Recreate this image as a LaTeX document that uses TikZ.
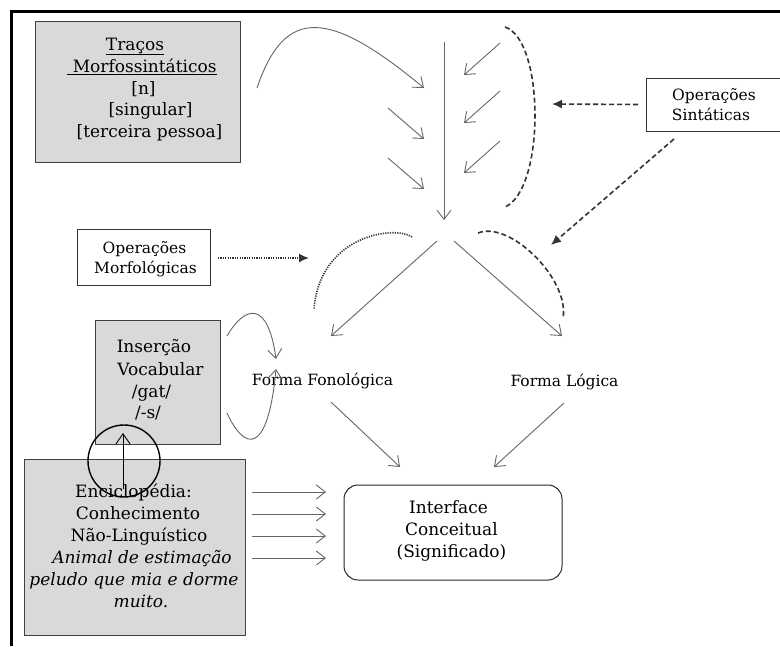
\documentclass[tikz,border=0pt]{standalone}
\usepackage{fontspec}
\setmainfont{DejaVu Serif}
\usetikzlibrary{arrows.meta}
\begin{document}
\begin{tikzpicture}[x=1pt,y=-1pt,
  graybox/.style={draw=black!75, fill=black!15, line width=1pt, inner sep=0pt},
  whitebox/.style={draw=black!80, fill=white, line width=1pt, inner sep=0pt},
  bigtxt/.style={inner sep=0pt, anchor=base, font=\fontsize{17}{20}\selectfont},
  smalltxt/.style={inner sep=0pt, anchor=base, font=\fontsize{15.5}{18}\selectfont},
  ittxt/.style={bigtxt, font=\fontsize{17}{20}\selectfont\itshape},
  garrow/.style={draw=black!60, line width=0.9pt, -{Straight Barb[length=9pt,width=14pt]}},
  dasharrow/.style={draw=black!80, line width=1.6pt, dash pattern=on 5pt off 3pt, -{Latex[length=10pt,width=9pt]}},
  dotarrow/.style={draw=black!80, line width=1.6pt, dash pattern=on 1.2pt off 1.2pt, -{Latex[length=10pt,width=9pt]}},
  dashcurve/.style={draw=black!80, line width=1.6pt, dash pattern=on 5pt off 3pt},
  dotcurve/.style={draw=black!80, line width=1.6pt, dash pattern=on 1.2pt off 1.2pt}
]
\useasboundingbox (0,0) rectangle (780,646);
\fill[white] (0,0) rectangle (780,646);
% frame
\draw[line width=3pt] (11.5,646) -- (11.5,11.5) -- (780,11.5);

% boxes
\node[graybox, minimum width=205, minimum height=141] (tracos) at (137.5,91.5) {};
\node[bigtxt] (tr1) at (135,50) {\underline{Traços}};
\node[bigtxt] (tr2) at (142,72.5) {\underline{\ Morfossintáticos}};
\node[bigtxt] (tr3) at (143.5,94) {[n]};
\node[bigtxt] (tr4) at (150.5,115.5) {[singular]};
\node[bigtxt] (tr5) at (149.5,137) {[terceira pessoa]};

\node[whitebox, minimum width=133, minimum height=56] (opmorf) at (143.5,257) {};
\node[smalltxt] (om1) at (144.5,253) {Operações};
\node[smalltxt] (om2) at (145.5,273.5) {Morfológicas};

\node[whitebox, minimum width=134, minimum height=53, anchor=west] (opsint) at (646,104.5) {};
\node[smalltxt] (os1) at (714,100) {Operações};
\node[smalltxt] (os2) at (711,120.5) {Sintáticas};

\node[graybox, minimum width=125, minimum height=124] (insercao) at (157.5,382) {};
\node[bigtxt] (in1) at (154,352.5) {Inserção};
\node[bigtxt] (in2) at (160.5,375) {Vocabular};
\node[bigtxt] (in3) at (151.5,397) {/gat/};
\node[bigtxt] (in4) at (148,418.5) {/-s/};

\node[graybox, minimum width=221, minimum height=176] (encicl) at (134.5,547) {};
\node[bigtxt] (en1) at (133.5,497) {Enciclopédia:};
\node[bigtxt] (en2) at (138,519) {Conhecimento};
\node[bigtxt] (en3) at (139,541) {Não-Linguístico};
\node[ittxt] (en4) at (142,563) {Animal de estimação};
\node[ittxt] (en5) at (134,585) {peludo que mia e dorme};
\node[ittxt] (en6) at (141,607.5) {muito.};

\node[draw=black!85, line width=1pt, rounded corners=14pt, minimum width=218, minimum height=95,
      inner sep=0pt] (interface) at (453,532.5) {};
\node[bigtxt] (if1t) at (448.5,513) {Interface};
\node[bigtxt] (if2t) at (451.5,535.5) {Conceitual};
\node[bigtxt] (if3t) at (451.5,557) {(Significado)};

\node[smalltxt] (ff) at (322.5,385) {Forma Fonológica};
\node[smalltxt] (fl) at (564.5,386.5) {Forma Lógica};

% circle and arrow in it
\node[circle, draw=black, line width=1.4pt, minimum size=72, inner sep=0pt] (circ) at (124,461) {};
\coordinate (cs) at (123,489);
\coordinate (ce) at (123,433);
\draw[black, line width=0.9pt, -{Straight Barb[length=10pt,width=14pt]}] (cs) -- (ce);

% top area
\coordinate (vtop) at (444,42);
\coordinate (vbot) at (444,220);
\draw[garrow] (vtop) -- (vbot);

\coordinate (c0s) at (257,88);
\coordinate (c0e) at (424,88);
\draw[garrow] (c0s) .. controls (285,5) and (330,10) .. (c0e);
\coordinate (l1s) at (388,108); \coordinate (l1e) at (424,139);
\coordinate (l2s) at (388,158); \coordinate (l2e) at (424,189);
\draw[garrow] (l1s) -- (l1e);
\draw[garrow] (l2s) -- (l2e);
\coordinate (r1s) at (500,43);  \coordinate (r1e) at (464,75);
\coordinate (r2s) at (500,91);  \coordinate (r2e) at (464,123);
\coordinate (r3s) at (500,141); \coordinate (r3e) at (464,173);
\draw[garrow] (r1s) -- (r1e);
\draw[garrow] (r2s) -- (r2e);
\draw[garrow] (r3s) -- (r3e);

% dashed curve (syntactic operations)
\coordinate (dc1) at (505,27);
\coordinate (dc2) at (505,207);
\draw[dashcurve] (dc1) .. controls (545,40) and (545,190) .. (dc2);
\coordinate (sa1) at (552,104);
\draw[dasharrow] (opsint.west) ++(-8,0) coordinate (sa0) -- (sa1);
\coordinate (sb0) at (674,139);
\coordinate (sb1) at (551,245);
\draw[dasharrow] (sb0) -- (sb1);

% lower arcs
\coordinate (da1) at (478,233);
\coordinate (da2) at (563,318);
\draw[dashcurve] (da1) .. controls (510,220) and (570,280) .. (da2);
\coordinate (do1) at (412,237);
\coordinate (do2) at (314,309);
\draw[dotcurve] (do1) .. controls (395,225) and (320,235) .. (do2);
\coordinate (ma0) at (218,258);
\coordinate (ma1) at (309,258);
\draw[dotarrow] (ma0) -- (ma1);

% split arrows
\coordinate (sp1) at (437,241);
\coordinate (sp2) at (454,241);
\coordinate (ffin) at (331,336);
\coordinate (flin) at (562,336);
\draw[garrow] (sp1) -- (ffin);
\draw[garrow] (sp2) -- (flin);

% to interface
\coordinate (ffout) at (331,402);
\coordinate (flout) at (564,403);
\coordinate (if1) at (400,467);
\coordinate (if2) at (494,467);
\draw[garrow] (ffout) -- (if1);
\draw[garrow] (flout) -- (if2);

% insercao curved arrows
\coordinate (ia1) at (227,336);
\coordinate (ia2) at (276,359);
\coordinate (ib1) at (227,413);
\coordinate (ib2) at (276,369);
\draw[garrow] (ia1) .. controls (245,305) and (268,300) .. (ia2);
\draw[garrow] (ib1) .. controls (245,452) and (268,455) .. (ib2);

% horizontal arrows encyclopedia -> interface
\foreach \yy/\nm in {492/h1,514/h2,536/h3,558/h4}{
  \coordinate (\nm s) at (252,\yy);
  \coordinate (\nm e) at (326,\yy);
  \draw[garrow] (\nm s) -- (\nm e);
}
\end{tikzpicture}
\end{document}
